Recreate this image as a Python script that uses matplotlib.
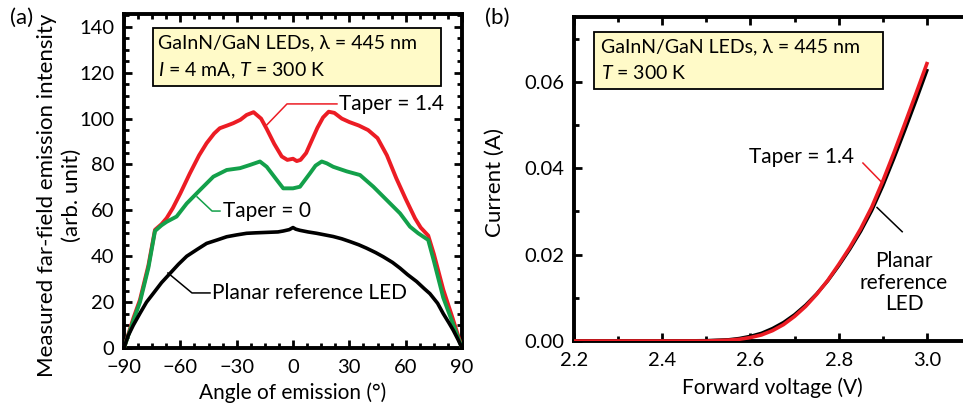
import numpy as np
import matplotlib
matplotlib.use("Agg")
import matplotlib.pyplot as plt
from matplotlib.patches import Rectangle
from matplotlib.ticker import MultipleLocator

plt.rcParams['font.family'] = ['Lato', 'DejaVu Sans']
plt.rcParams['mathtext.fontset'] = 'custom'
plt.rcParams['mathtext.rm'] = 'Lato'
plt.rcParams['mathtext.it'] = 'Lato:italic'

# ---- panel (a): far-field emission vs angle ----
ang_taper14 = [-90, -85, -81.5, -77, -73.5, -70, -67.3, -64, -60, -55, -50, -46, -42, -39, -35,
               -31.8, -28, -24.7, -21, -17, -14, -10, -6, -3, 0, 2, 4, 7, 10, 13, 16, 19, 22,
               26, 30, 35, 40, 45, 50, 55, 60, 65, 68, 72, 75, 80, 85, 90]
int_taper14 = [0, 13, 21, 36, 51.5, 54, 56.6, 61, 67.4, 76, 84, 89.3, 93.5, 95.8, 97,
               98, 99.5, 101.6, 102.8, 100, 95.5, 89, 83.5, 82, 82.5, 81.5, 82, 85, 90.5, 96, 100.5, 103, 102.5,
               100, 98.5, 97, 95, 91.5, 84, 74, 65, 56.5, 52.5, 49, 41, 25.5, 13, 0]

ang_taper0 = [-90, -85, -81.5, -77, -73.5, -70, -67.3, -62, -56.6, -49.5, -42.4, -35.3, -28.2,
              -22.9, -17.6, -14, -8.7, -5.2, 0, 3.7, 9, 12, 15.3, 18, 21.4, 28.6, 35.7, 42.8,
              49.9, 57, 62.3, 66.7, 72, 75, 80, 85, 90]
int_taper0 = [0, 12, 20, 35, 51, 53.5, 55, 57.3, 63, 68.9, 74.7, 77.6, 78.4,
              79.8, 81.3, 79, 73.3, 69.6, 69.6, 70.3, 76.1, 79.5, 81.3, 80.5, 79, 77, 75.4, 70.3,
              64.5, 58.7, 52.9, 50, 47.1, 38, 22, 11, 0]

ang_planar = [-90, -88, -85, -81.5, -78, -74.4, -70, -65.5, -61, -56.6, -51, -46, -40, -35.3, -30,
              -24.7, -20, -14, -8, -5.2, -2, 0, 1.5, 3.7, 8, 12.6, 17, 21.4, 26, 30.3, 35, 39.2,
              44, 48, 53, 57, 61, 65.8, 70, 72.9, 77, 80, 83, 85.3, 88, 90]
int_planar = [0, 5, 10, 15.1, 20, 23.8, 28.5, 32.5, 36.5, 40, 43, 45.6, 47.2, 48.5, 49.3,
              50, 50.2, 50.4, 50.6, 51, 51.6, 52.5, 51.8, 51.3, 50.6, 50, 49.3, 48.6, 47.6, 46.4, 45, 43.5,
              41.6, 39.8, 37.3, 34.8, 32, 29, 25.8, 23.7, 19.5, 15, 11, 7.8, 3.5, 0]

# ---- panel (b): I-V ----
v_taper14 = [2.2, 2.3, 2.4, 2.5, 2.525, 2.55, 2.575, 2.6, 2.625, 2.65, 2.675, 2.7, 2.725, 2.75,
             2.775, 2.8, 2.825, 2.85, 2.875, 2.9, 2.925, 2.95, 2.975, 3.0]
i_taper14 = [0, 0, 0, 0, 0.0001, 0.0002, 0.0004, 0.0008, 0.0014, 0.0024, 0.0038, 0.0057, 0.0080, 0.0108,
             0.0140, 0.0177, 0.0216, 0.0260, 0.0310, 0.0370, 0.0435, 0.0503, 0.0572, 0.0642]
v_planar = [2.2, 2.3, 2.4, 2.5, 2.525, 2.55, 2.575, 2.6, 2.625, 2.65, 2.675, 2.7, 2.725, 2.75,
            2.775, 2.8, 2.825, 2.85, 2.875, 2.9, 2.925, 2.95, 2.975, 3.0]
i_planar = [0, 0, 0, 0.0001, 0.0002, 0.0003, 0.0006, 0.0011, 0.0018, 0.0029, 0.0043, 0.0061, 0.0083, 0.0109,
            0.0139, 0.0174, 0.0212, 0.0254, 0.0302, 0.0359, 0.0422, 0.0488, 0.0556, 0.0626]

RED = '#ec1c24'
GREEN = '#13a04a'
BOX = '#fffac8'
TICK_FS = 14.5
LAB_FS = 15
YLAB_FS = 16
ANN_FS = 15
BOX_FS = 14

fig = plt.figure(figsize=(9.63, 4.08), dpi=100)
ax1 = fig.add_axes([124 / 963, 60 / 408, 338 / 963, 334 / 408])
ax2 = fig.add_axes([574 / 963, 67 / 408, 397 / 963, 324 / 408])


def style(ax):
    for s in ax.spines.values():
        s.set_linewidth(2.8)
    ax.tick_params(which='both', direction='in', top=True, right=True, labelsize=TICK_FS)
    ax.tick_params(axis='x', which='both', pad=8)
    ax.tick_params(axis='y', which='both', pad=7)
    ax.tick_params(which='major', length=6, width=2)
    ax.tick_params(which='minor', length=3.5, width=2)


# panel (a)
ax1.plot(ang_taper14, int_taper14, color=RED, lw=2.8, solid_joinstyle='round', zorder=3)
ax1.plot(ang_taper0, int_taper0, color=GREEN, lw=2.8, solid_joinstyle='round', zorder=4)
ax1.plot(ang_planar, int_planar, color='black', lw=2.6, solid_joinstyle='round', zorder=5)
ax1.set_xlim(-90, 90)
ax1.set_ylim(0, 145.6)
ax1.xaxis.set_minor_locator(MultipleLocator(7.5))
ax1.yaxis.set_major_locator(MultipleLocator(20))
ax1.yaxis.set_minor_locator(MultipleLocator(5))
style(ax1)
ax1.set_xticks([-90, -60, -30, 0, 30, 60, 90])
ax1.set_xticklabels(['\u221290', '\u221260', '\u221230', '0', '30', '60', '90'])
ax1.set_xlabel('Angle of emission (\u00b0)', fontsize=LAB_FS, va='center')
ax1.xaxis.set_label_coords(0.5, -0.135)
ax1.set_ylabel('Measured far-field emission intensity\n(arb. unit)', fontsize=YLAB_FS,
               linespacing=1.3, va='center')
ax1.yaxis.set_label_coords(-0.19, 0.458)

ax1.add_patch(Rectangle((0.086, 0.784), 0.852, 0.174, transform=ax1.transAxes,
                        facecolor=BOX, edgecolor='black', lw=1.3, zorder=6))
ax1.text(0.1, 0.913, 'GaInN/GaN LEDs, \u03bb = 445 nm', transform=ax1.transAxes,
         fontsize=BOX_FS, va='center', ha='left', zorder=7)
ax1.text(0.1, 0.829, '$I$ = 4 mA, $T$ = 300 K', transform=ax1.transAxes,
         fontsize=BOX_FS, va='center', ha='left', zorder=7)

ax1.plot([23.4, -3.2, -13.9], [106.4, 106.4, 97.3], color=RED, lw=1.1, zorder=6)
ax1.text(24.5, 106.4, 'Taper = 1.4', fontsize=ANN_FS, va='center', ha='left')
ax1.plot([-38.9, -43.1, -51.1], [59.7, 59.7, 65.9], color=GREEN, lw=1.1, zorder=6)
ax1.text(-37.5, 59.7, 'Taper = 0', fontsize=ANN_FS, va='center', ha='left')
ax1.plot([-44.2, -53.8, -66.6], [24, 24, 32.7], color='black', lw=1.1, zorder=6)
ax1.text(-43, 24, 'Planar reference LED', fontsize=ANN_FS, va='center', ha='left')

# panel (b)
ax2.plot(v_planar, i_planar, color='black', lw=2.4, zorder=3)
ax2.plot(v_taper14, i_taper14, color=RED, lw=2.6, zorder=4)
ax2.set_xlim(2.2, 3.1)
ax2.set_ylim(0, 0.075)
ax2.xaxis.set_minor_locator(MultipleLocator(0.1))
ax2.yaxis.set_minor_locator(MultipleLocator(0.01))
style(ax2)
ax2.set_xticks([2.2, 2.4, 2.6, 2.8, 3.0])
ax2.set_xticklabels(['2.2', '2.4', '2.6', '2.8', '3.0'])
ax2.set_yticks([0, 0.02, 0.04, 0.06])
ax2.set_yticklabels(['0.00', '0.02', '0.04', '0.06'])
ax2.set_xlabel('Forward voltage (V)', fontsize=LAB_FS, va='center')
ax2.xaxis.set_label_coords(0.5, -0.145)
ax2.set_ylabel('Current (A)', fontsize=YLAB_FS, va='center')
ax2.yaxis.set_label_coords(-0.199, 0.49)

ax2.add_patch(Rectangle((0.05, 0.778), 0.728, 0.176, transform=ax2.transAxes,
                        facecolor=BOX, edgecolor='black', lw=1.3, zorder=6))
ax2.text(0.068, 0.907, 'GaInN/GaN LEDs, \u03bb = 445 nm', transform=ax2.transAxes,
         fontsize=BOX_FS, va='center', ha='left', zorder=7)
ax2.text(0.068, 0.827, '$T$ = 300 K', transform=ax2.transAxes,
         fontsize=BOX_FS, va='center', ha='left', zorder=7)

ax2.plot([2.855, 2.898], [0.0412, 0.0367], color=RED, lw=1.1, zorder=6)
ax2.text(2.834, 0.0426, 'Taper = 1.4', fontsize=ANN_FS, va='center', ha='right')
ax2.plot([2.887, 2.944], [0.0309, 0.0253], color='black', lw=1.1, zorder=6)
ax2.text(2.948, 0.0135, 'Planar\nreference\nLED', fontsize=ANN_FS, va='center', ha='center',
         linespacing=1.1)

fig.text(10 / 963, 1 - 18 / 408, '(a)', fontsize=16, va='center', ha='left')
fig.text(485 / 963, 1 - 18 / 408, '(b)', fontsize=16, va='center', ha='left')

fig.savefig('out.png', dpi=100)
